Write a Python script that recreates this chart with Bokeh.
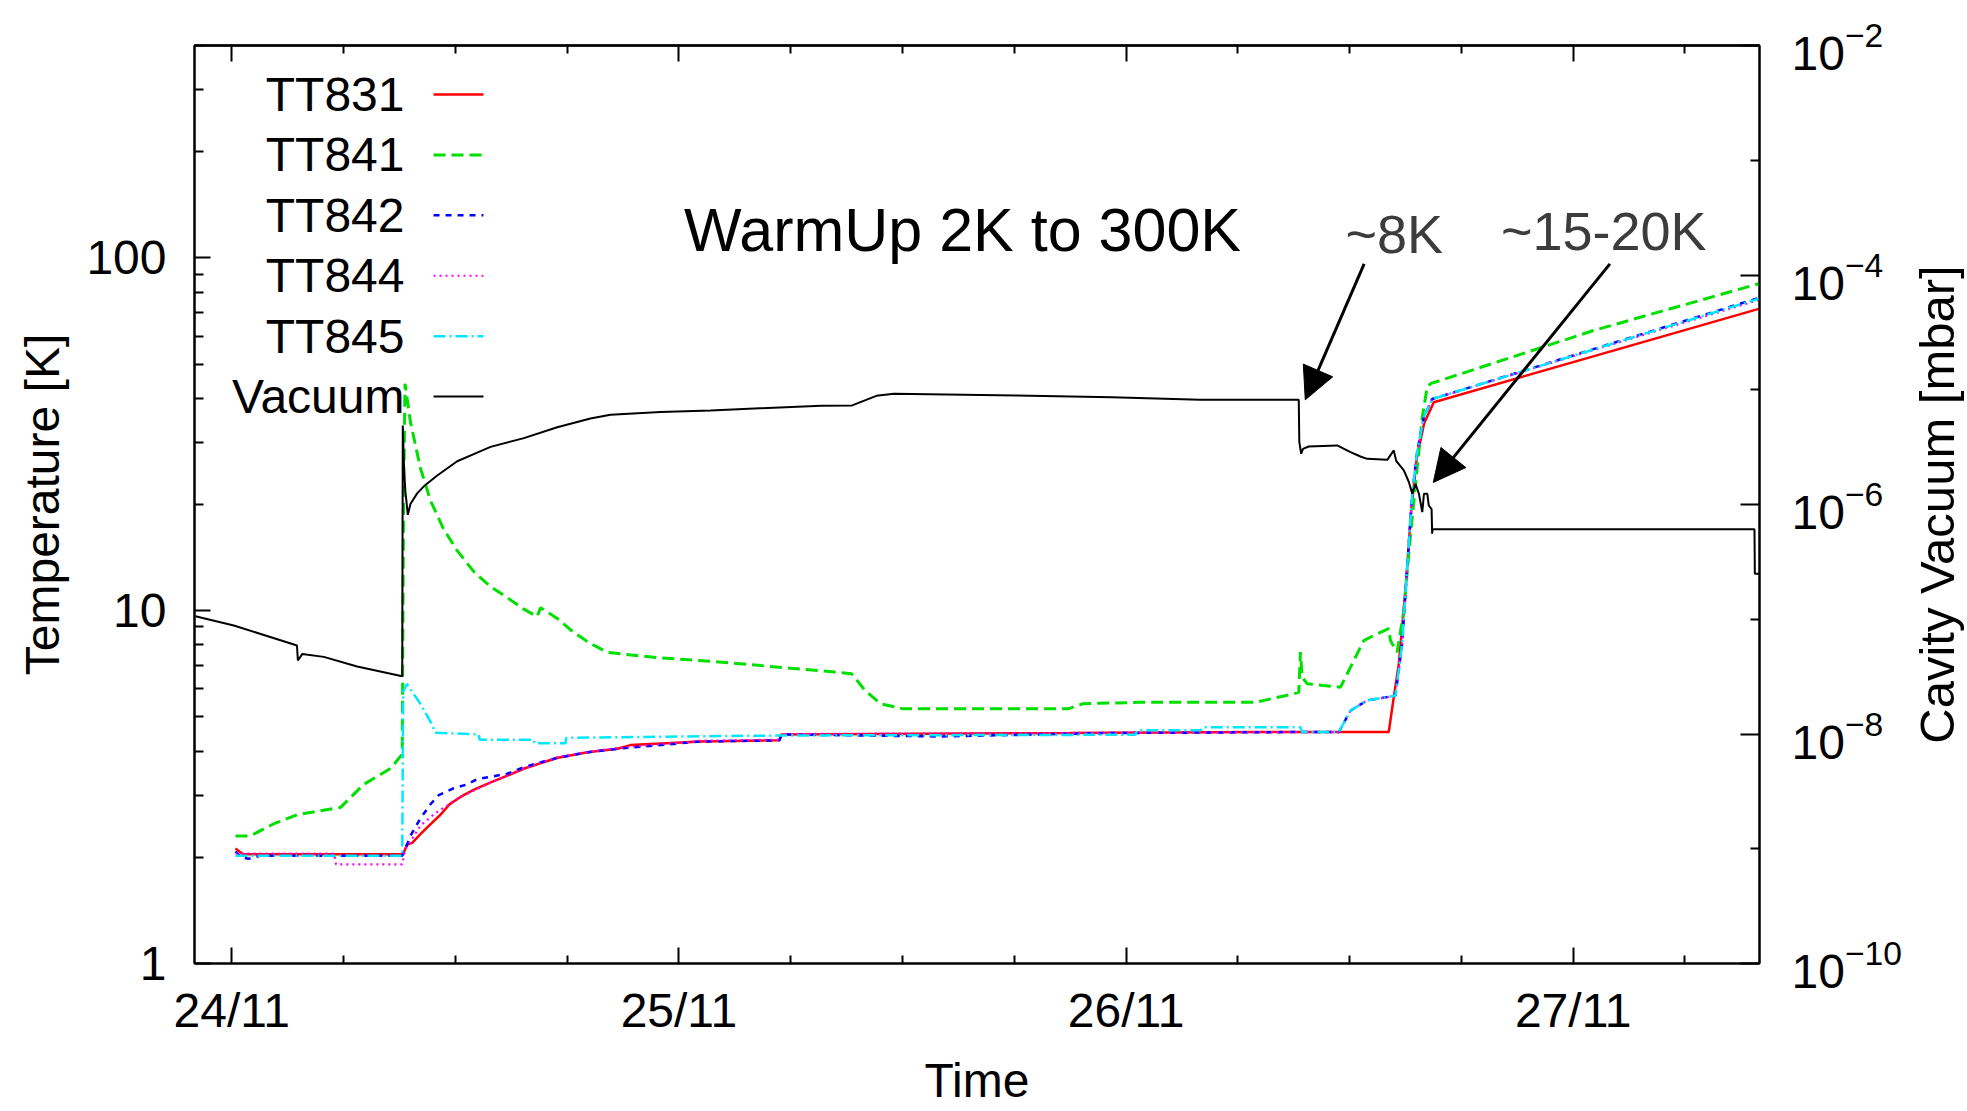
import math
from bokeh.plotting import figure
from bokeh.layouts import row
from bokeh.models import (Range1d, LogScale, LogAxis, LinearAxis, FixedTicker,
                          LogTickFormatter, BasicTickFormatter, Arrow, NormalHead, Label)
from bokeh.core.properties import value
from bokeh.embed import file_html
from bokeh.resources import INLINE

# ---------------- data (time in hours since 24/11 00:00) ----------------
day_hours = [0, 24, 48, 72]
day_labels = ["24/11", "25/11", "26/11", "27/11"]
quarter_hours = [6, 12, 18, 30, 36, 42, 54, 60, 66, 78]

temp_ticks = [1, 10, 100]
temp_minor = [2, 3, 4, 5, 6, 7, 8, 9, 20, 30, 40, 50, 60, 70, 80, 90, 200, 300, 400]
vac_ticks = [1e-10, 1e-8, 1e-6, 1e-4, 1e-2]
vac_minor = [1e-9, 1e-7, 1e-5, 1e-3]

series_names = ["TT831", "TT841", "TT842", "TT844", "TT845", "Vacuum"]

t831_h = [0.2, 0.6, 9.2, 9.4, 9.7, 10.1, 10.7, 11.2, 11.7, 12.3, 13.0, 13.9, 14.8, 15.7,
          16.6, 17.5, 19.1, 20.7, 21.4, 25.2, 29.4, 29.5, 45.0, 55.0, 62.1, 62.37, 62.64,
          63.0, 63.3, 63.6, 64.0, 64.52, 81.96]
t831_T = [2.12, 2.04, 2.04, 2.17, 2.20, 2.32, 2.49, 2.64, 2.83, 2.97, 3.11, 3.26, 3.41, 3.57,
          3.70, 3.83, 3.97, 4.06, 4.16, 4.26, 4.29, 4.46, 4.50, 4.53, 4.53, 5.69, 7.07,
          11.5, 19.0, 27.0, 34.0, 39.0, 71.7]

t841_h = [0.2, 1.0, 2.26, 3.51, 5.84, 7.09, 8.52, 9.15, 9.22, 9.3, 9.59, 10.13, 10.67, 11.38,
          12.10, 12.99, 13.89, 14.78, 15.68, 16.39, 16.57, 17.47, 18.36, 19.25, 20.15, 22.83,
          25.7, 28.24, 32.35, 33.27, 33.99, 34.82, 36.04, 44.88, 45.70, 48.78, 54.94, 56.59,
          57.27, 57.36, 57.45, 57.72, 59.51, 60.05, 60.76, 61.48, 62.10, 62.19, 62.55, 62.91,
          63.27, 63.63, 63.90, 64.16, 64.34, 73.11, 81.96]
t841_T = [2.30, 2.30, 2.49, 2.64, 2.77, 3.22, 3.57, 3.92, 20.0, 44.0, 34.3, 25.3, 20.5, 17.0,
          14.8, 12.9, 11.7, 10.9, 10.1, 9.62, 10.2, 9.51, 8.67, 8.08, 7.62, 7.36,
          7.19, 7.00, 6.70, 6.63, 5.94, 5.45, 5.27, 5.27, 5.45, 5.50, 5.50, 5.75,
          5.87, 7.63, 6.48, 6.21, 6.07, 6.92, 8.23, 8.60, 8.89, 8.23, 7.63, 10.0,
          16.5, 25.5, 35.3, 43.0, 44.0, 62.3, 84.5]

t842_h = [0.2, 0.5, 0.9, 1.5, 9.15, 9.3, 9.59, 10.13, 10.67, 11.11, 11.92, 12.64, 13.17, 14.78,
          15.68, 16.6, 17.5, 19.1, 20.7, 25.2, 29.4, 29.5, 38.0, 47.0, 57.4, 59.42, 60.05,
          60.94, 62.02, 62.46, 62.82, 63.09, 63.36, 63.63, 63.99, 64.43, 81.96]
t842_T = [2.08, 2.00, 1.98, 2.02, 2.02, 2.10, 2.30, 2.58, 2.83, 3.00, 3.14, 3.22, 3.33, 3.45,
          3.60, 3.72, 3.83, 3.97, 4.06, 4.26, 4.29, 4.46, 4.40, 4.50, 4.53, 4.53, 5.21,
          5.57, 5.69, 5.75, 8.06, 13.3, 21.4, 28.4, 35.4, 39.8, 77.0]

t844_h = [0.2, 5.5, 5.6, 9.15, 9.3, 9.6, 10.13, 10.9, 12.1, 13.9, 15.7, 17.5, 19.1, 20.7,
          25.2, 29.4, 29.5, 57.4, 59.42, 60.05, 60.94, 62.02, 62.46, 62.82, 63.09, 63.36,
          63.63, 63.99, 64.43, 81.96]
t844_T = [2.05, 2.05, 1.91, 1.91, 2.10, 2.22, 2.46, 2.66, 2.93, 3.26, 3.57, 3.85, 3.98, 4.08,
          4.28, 4.31, 4.47, 4.53, 4.53, 5.21, 5.57, 5.69, 5.75, 8.06, 13.3, 21.4,
          28.4, 35.4, 39.8, 76.0]

t845_h = [0.2, 9.15, 9.2, 9.4, 10.13, 10.67, 10.94, 13.26, 13.3, 16.21, 16.25, 17.91, 17.95,
          25.7, 30.0, 48.5, 48.6, 52.0, 52.1, 57.36, 57.45, 59.42, 60.05, 60.94, 62.02, 62.46,
          62.82, 63.09, 63.36, 63.63, 63.99, 64.43, 81.96]
t845_T = [2.02, 2.02, 5.9, 6.2, 5.44, 4.84, 4.51, 4.46, 4.31, 4.31, 4.21, 4.21, 4.36,
          4.41, 4.43, 4.45, 4.58, 4.58, 4.67, 4.67, 4.53, 4.53, 5.21, 5.57, 5.69, 5.75,
          8.06, 13.3, 21.4, 28.4, 35.4, 39.8, 76.6]

vac_h = [-1.95, 0.11, 3.42, 3.5, 3.55, 3.78, 4.94, 6.73, 9.15, 9.18, 9.25, 9.32, 9.45, 9.59,
         9.95, 10.31, 11.03, 12.10, 12.99, 13.89, 15.68, 17.47, 19.25, 20.33, 23.01, 25.70,
         28.34, 31.63, 33.3, 34.6, 35.54, 42.1, 47.24, 51.96, 57.27, 57.30, 57.40, 57.50,
         57.80, 59.33, 60.05, 60.58, 60.94, 62.02, 62.37, 62.50, 62.91, 63.18, 63.36, 63.54,
         63.72, 63.90, 63.99, 64.17, 64.25, 64.40, 64.43, 64.45, 81.73, 81.75, 82.0]
vac_p = [1.06e-7, 8.83e-8, 5.96e-8, 5.9e-8, 4.37e-8, 4.97e-8, 4.70e-8, 3.87e-8, 3.19e-8,
         4.88e-6, 2.0e-6, 1.3e-6, 8.13e-7, 1.01e-6, 1.25e-6, 1.44e-6, 1.79e-6, 2.38e-6,
         2.75e-6, 3.18e-6, 3.79e-6, 4.71e-6, 5.62e-6, 6.05e-6, 6.41e-6, 6.60e-6, 6.90e-6,
         7.24e-6, 7.3e-6, 8.85e-6, 9.23e-6, 8.91e-6, 8.61e-6, 8.17e-6, 8.17e-6, 3.5e-6,
         2.77e-6, 3.05e-6, 3.20e-6, 3.27e-6, 2.86e-6, 2.62e-6, 2.50e-6, 2.45e-6, 2.96e-6,
         2.40e-6, 1.98e-6, 1.57e-6, 1.24e-6, 1.51e-6, 1.24e-6, 8.57e-7, 1.24e-6, 1.24e-6,
         9.8e-7, 9.1e-7, 5.56e-7, 6.1e-7, 6.1e-7, 2.49e-7, 2.49e-7]

right_title = "Cavity Vacuum [mbar]"

# ---------------- styling ----------------
FONT = "Liberation Sans"
colors = ["#ff0000", "#00e000", "#0000ff", "#ff00ff", "#00e8ff", "#000000"]
dashes = ["solid", "12 6", "6 6", "2 4", "12 4 2 4", "solid"]
widths = [2.5, 3, 2.5, 2.2, 2.5, 2]

W_TITLE = 62  # narrow strip on the right that carries the right-hand axis title

p = figure(width=1967 - W_TITLE, height=1111, x_range=Range1d(-2, 82), y_range=Range1d(1, 400),
           y_axis_type="log", output_backend="svg", toolbar_location=None,
           min_border_left=194, min_border_right=146, min_border_top=45, min_border_bottom=148,
           background_fill_color="white", border_fill_color="white")
p.grid.visible = False
p.outline_line_color = "black"
p.outline_line_width = 2

p.extra_y_ranges = {"vac": Range1d(1e-10, 1e-2)}
p.extra_y_scales = {"vac": LogScale()}

# x axis
xa = p.xaxis[0]
xa.ticker = FixedTicker(ticks=day_hours, minor_ticks=quarter_hours)
xa.major_label_overrides = {h: lab for h, lab in zip(day_hours, day_labels)}
xa.axis_label = "Time"
xa.major_label_standoff = 20
xa.axis_label_standoff = 14

# top mirror ticks (no labels): long day ticks and short 6-hour ticks
top_days = LinearAxis(ticker=FixedTicker(ticks=[], minor_ticks=day_hours))
top_quarters = LinearAxis(ticker=FixedTicker(ticks=[], minor_ticks=quarter_hours))
p.add_layout(top_days, "above")
p.add_layout(top_quarters, "above")

# left axis
ya = p.yaxis[0]
ya.ticker = FixedTicker(ticks=temp_ticks, minor_ticks=temp_minor)
ya.formatter = BasicTickFormatter()
ya.axis_label = "Temperature [K]"
ya.major_label_standoff = 28
ya.axis_label_standoff = 14

# right axis
ra = LogAxis(y_range_name="vac", ticker=FixedTicker(ticks=vac_ticks, minor_ticks=vac_minor),
             formatter=LogTickFormatter())
ra.major_label_standoff = 32
p.add_layout(ra, "right")

for ax, maj, mn in [(xa, 16, 8), (top_days, 16, 16), (top_quarters, 8, 8), (ya, 16, 9), (ra, 19, 9)]:
    ax.major_tick_in = maj
    ax.major_tick_out = 0
    ax.minor_tick_in = mn
    ax.minor_tick_out = 0
    ax.major_tick_line_width = 2
    ax.minor_tick_line_width = 2
    ax.major_tick_line_color = "black"
    ax.minor_tick_line_color = "black"
    ax.axis_line_width = 2
    ax.axis_line_color = "black"
    ax.major_label_text_font = FONT
    ax.major_label_text_color = "black"
    ax.axis_label_text_font = FONT
    ax.axis_label_text_font_style = "normal"
    ax.axis_label_text_color = "black"
    ax.major_label_text_font_size = "48px"
    ax.axis_label_text_font_size = "48px"

# ---------------- series ----------------
data = [(t831_h, t831_T), (t841_h, t841_T), (t842_h, t842_T),
        (t844_h, t844_T), (t845_h, t845_T)]
for (xs, ys), c, d, w in zip(data, colors[:5], dashes[:5], widths[:5]):
    p.line(xs, ys, line_color=c, line_dash=d, line_width=w)
p.line(vac_h, vac_p, line_color=colors[5], line_width=widths[5], y_range_name="vac")

# ---------------- key (label left, sample right, like the original) ----------------
key_top = 290.4
key_step = 10 ** 0.1712
key_rows = [key_top / key_step ** i for i in range(len(series_names))]
key_text_x = 9.27
key_line_x = [10.83, 13.51]
p.text(x=[key_text_x] * len(series_names), y=key_rows, text=series_names,
       text_align="right", text_baseline="middle", text_color="black",
       text_font=value(FONT), text_font_size=value("48px"))
for yrow, c, d, w in zip(key_rows, colors, dashes, widths):
    p.line(key_line_x, [yrow, yrow], line_color=c, line_dash=d, line_width=w)

# ---------------- annotations ----------------
p.add_layout(Label(x=39.22, y=119.9, text="WarmUp 2K to 300K", text_align="center",
                   text_baseline="middle", text_font=FONT, text_font_size="61px",
                   text_color="black"))
p.add_layout(Label(x=62.4, y=117.0, text="~8K", text_align="center",
                   text_baseline="middle", text_font=FONT, text_font_size="54px",
                   text_color="#3c3c3c"))
p.add_layout(Label(x=73.64, y=118.9, text="~15-20K", text_align="center",
                   text_baseline="middle", text_font=FONT, text_font_size="54px",
                   text_color="#3c3c3c"))
for xs_, ys_, xe_, ye_ in [(60.78, 96.2, 57.62, 39.6), (73.97, 96.2, 64.49, 23.1)]:
    p.add_layout(Arrow(x_start=xs_, y_start=ys_, x_end=xe_, y_end=ye_, line_width=3,
                       line_color="black",
                       end=NormalHead(size=32, fill_color="black", line_color="black")))

# ---------------- right-hand axis title strip (reads bottom-to-top) ----------------
t = figure(width=W_TITLE, height=1111, x_range=Range1d(0, 1), y_range=Range1d(0, 1),
           output_backend="svg", toolbar_location=None,
           min_border_left=0, min_border_right=0, min_border_top=45, min_border_bottom=148,
           background_fill_color="white", border_fill_color="white")
t.axis.visible = False
t.grid.visible = False
t.outline_line_color = None
t.text(x=[0.5], y=[0.5], text=[right_title], angle=math.pi / 2,
       text_align="center", text_baseline="middle", text_color="black",
       text_font=value(FONT), text_font_size=value("49px"))

layout = row(p, t, spacing=0)
open("out.html", "w").write(file_html(layout, INLINE))
